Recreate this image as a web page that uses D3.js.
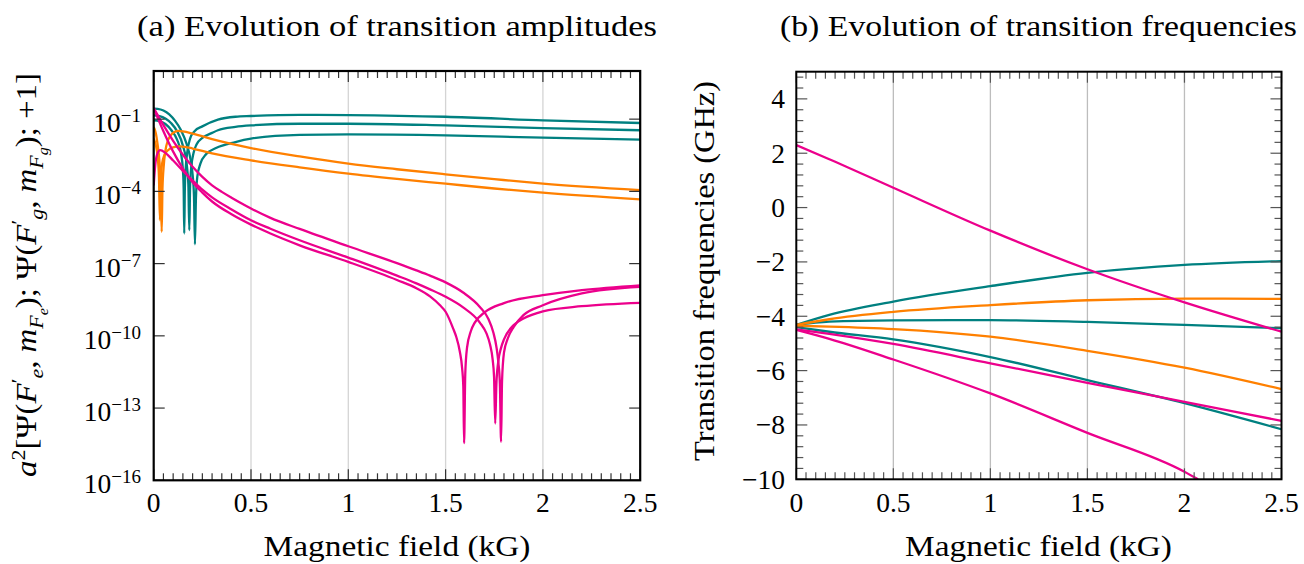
<!DOCTYPE html>
<html><head><meta charset="utf-8">
<script src="https://cdn.jsdelivr.net/npm/d3@7"></script>
<style>body{margin:0;background:#fff}svg{display:block}text{font-family:"Liberation Serif","Times New Roman",serif;fill:#000}</style>
</head><body>
<script>
// ---------- data ----------
const fieldTicks = [0, 0.5, 1, 1.5, 2, 2.5];
const fieldTickLabels = ["0", "0.5", "1", "1.5", "2", "2.5"];
const ampTickExps = [-1, -4, -7, -10, -13, -16];
const freqTicks = [4, 2, 0, -2, -4, -6, -8, -10];
const freqTickLabels = ["4", "2", "0", "\u22122", "\u22124", "\u22126", "\u22128", "\u221210"];

// panel (a): [field kG, log10 of a^2]
const tealA = [[0,-1.05],[0.03,-1.08],[0.06,-1.2],[0.09,-1.45],[0.12,-1.85],[0.14,-2.4],[0.15,-3.1],[0.154,-3.9],[0.157,-5.75],[0.16,-3.9],[0.164,-3.1],[0.172,-2.4],[0.187,-1.81],[0.21,-1.5],[0.25,-1.3],[0.33,-1.02],[0.42,-0.9],[0.5,-0.87],[0.75,-0.82],[1.0,-0.83],[1.5,-0.9],[2.0,-1.05],[2.5,-1.16]];
const tealB = [[0,-0.84],[0.03,-0.87],[0.06,-0.97],[0.09,-1.17],[0.12,-1.5],[0.15,-2.1],[0.17,-2.9],[0.178,-3.7],[0.183,-5.61],[0.187,-3.8],[0.193,-3.0],[0.205,-2.4],[0.22,-2.05],[0.25,-1.78],[0.3,-1.57],[0.33,-1.46],[0.42,-1.32],[0.5,-1.26],[0.75,-1.19],[1.0,-1.19],[1.5,-1.26],[2.0,-1.37],[2.5,-1.46]];
const tealC = [[0,-0.56],[0.02,-0.57],[0.05,-0.64],[0.08,-0.8],[0.11,-1.07],[0.14,-1.45],[0.17,-2.05],[0.19,-2.7],[0.2,-3.3],[0.207,-4.2],[0.212,-6.2],[0.217,-4.3],[0.224,-3.4],[0.24,-2.85],[0.27,-2.45],[0.32,-2.2],[0.42,-1.95],[0.5,-1.81],[0.75,-1.65],[1.0,-1.63],[1.5,-1.67],[2.0,-1.77],[2.5,-1.85]];
const orangeA = [[0,-1.33],[0.01,-1.55],[0.02,-2.05],[0.03,-2.8],[0.036,-3.7],[0.041,-5.68],[0.045,-3.9],[0.052,-2.9],[0.065,-2.1],[0.085,-1.7],[0.105,-1.54],[0.127,-1.49],[0.15,-1.51],[0.2,-1.6],[0.3,-1.83],[0.5,-2.2],[0.75,-2.55],[1.0,-2.85],[1.25,-3.08],[1.5,-3.29],[1.75,-3.49],[2.0,-3.68],[2.5,-3.95]];
const orangeB = [[0,-1.81],[0.01,-2.05],[0.02,-2.55],[0.027,-3.4],[0.032,-5.2],[0.036,-3.6],[0.043,-2.85],[0.055,-2.5],[0.075,-2.28],[0.1,-2.17],[0.13,-2.13],[0.16,-2.15],[0.2,-2.22],[0.3,-2.42],[0.5,-2.71],[0.75,-3.0],[1.0,-3.26],[1.25,-3.48],[1.5,-3.68],[1.75,-3.88],[2.0,-4.05],[2.5,-4.33]];
const magentaUpper = [[0,-0.54],[0.05,-1.25],[0.1,-1.9],[0.15,-2.48],[0.2,-2.98],[0.25,-3.4],[0.3,-3.75],[0.35,-4.02],[0.4,-4.26],[0.45,-4.49],[0.5,-4.71],[0.6,-5.1],[0.75,-5.56],[1.0,-6.28],[1.25,-6.98],[1.35,-7.28],[1.42,-7.5],[1.5,-7.78],[1.59,-8.2],[1.676,-8.8],[1.72,-9.3],[1.745,-9.85],[1.762,-10.5],[1.771,-11.1],[1.779,-12.0],[1.785,-14.4],[1.79,-11.9],[1.8,-10.7],[1.82,-10.1],[1.85,-9.63],[1.9,-9.14],[2.0,-8.73],[2.2,-8.24],[2.5,-7.97]];
const magentaMid = [[0,-3.75],[0.008,-2.9],[0.018,-2.45],[0.033,-2.29],[0.06,-2.4],[0.1,-2.72],[0.15,-3.15],[0.2,-3.55],[0.25,-3.93],[0.3,-4.25],[0.4,-4.75],[0.5,-5.2],[0.6,-5.55],[0.75,-6.03],[1.0,-6.75],[1.25,-7.5],[1.35,-7.82],[1.42,-8.07],[1.5,-8.38],[1.59,-8.82],[1.676,-9.45],[1.71,-9.9],[1.728,-10.35],[1.742,-11.0],[1.749,-11.7],[1.755,-13.64],[1.761,-12.0],[1.77,-11.1],[1.785,-10.5],[1.8,-10.15],[1.85,-9.55],[1.9,-9.28],[2.0,-8.98],[2.2,-8.77],[2.5,-8.63]];
const magentaLower = [[0,-0.54],[0.05,-1.5],[0.1,-2.35],[0.15,-3.05],[0.2,-3.62],[0.25,-4.05],[0.3,-4.42],[0.4,-4.95],[0.5,-5.38],[0.6,-5.75],[0.75,-6.24],[1.0,-6.93],[1.25,-7.68],[1.35,-8.02],[1.42,-8.36],[1.47,-8.72],[1.5,-9.0],[1.539,-9.7],[1.555,-10.05],[1.573,-10.65],[1.585,-11.35],[1.591,-12.1],[1.595,-14.46],[1.601,-11.6],[1.61,-10.5],[1.63,-9.8],[1.65,-9.45],[1.7,-9.03],[1.8,-8.64],[2.0,-8.31],[2.2,-8.1],[2.5,-7.9]];

// panel (b): frequencies (GHz)
const freqField = [0, 0.17, 0.5, 1.0, 1.5, 2.0, 2.5];
const pink1 = [2.30, 1.78, 0.73, -0.85, -2.27, -3.49, -4.57];
const teal1 = [-4.32, -3.95, -3.46, -2.89, -2.40, -2.11, -1.97];
const orange1 = [-4.32, -4.11, -3.84, -3.59, -3.41, -3.35, -3.36];
const teal2 = [-4.32, -4.20, -4.15, -4.14, -4.21, -4.32, -4.44];
const orange2 = [-4.35, -4.38, -4.47, -4.75, -5.27, -5.89, -6.68];
const teal3 = [-4.40, -4.57, -4.85, -5.50, -6.35, -7.20, -8.16];
const pink2 = [-4.48, -4.65, -5.02, -5.73, -6.45, -7.15, -7.85];
const pink3Field = [0, 0.17, 0.5, 1.0, 1.5, 2.0, 2.07];
const pink3 = [-4.50, -4.83, -5.59, -6.84, -8.29, -9.72, -10.0];

const TEAL = "#008080", ORANGE = "#ff8000", MAGENTA = "#ec008c";

// ---------- drawing ----------
const svg = d3.select("body").append("svg").attr("width", 1304).attr("height", 564);

const xL = d3.scaleLinear().domain([0, 2.5]).range([153.7, 640.2]);
const yL = d3.scaleLog().domain([1e-16, 1e1]).range([480.3, 71]);
const xR = d3.scaleLinear().domain([0, 2.5]).range([796.3, 1281.5]);
const yR = d3.scaleLinear().domain([-10, 5]).range([479.3, 71.7]);

function clip(id, x, y) {
  svg.append("clipPath").attr("id", id).append("rect")
    .attr("x", x.range()[0]).attr("y", y.range()[1])
    .attr("width", x.range()[1] - x.range()[0]).attr("height", y.range()[0] - y.range()[1]);
}
clip("cL", xL, yL); clip("cR", xR, yR);

function grid(x, y, color) {
  svg.append("g").selectAll("line").data(fieldTicks.slice(1, -1)).join("line")
    .attr("x1", d => x(d)).attr("x2", d => x(d))
    .attr("y1", y.range()[1]).attr("y2", y.range()[0])
    .attr("stroke", color).attr("stroke-width", 1.3);
}
grid(xL, yL, "#d4d4d4");
grid(xR, yR, "#bdbdbd");

const lineL = d3.line().x(d => xL(d[0])).y(d => yL(Math.pow(10, d[1]))).curve(d3.curveMonotoneX);
const gL = svg.append("g").attr("clip-path", "url(#cL)");
[[tealA, TEAL], [tealB, TEAL], [tealC, TEAL], [orangeA, ORANGE], [orangeB, ORANGE],
 [magentaUpper, MAGENTA], [magentaMid, MAGENTA], [magentaLower, MAGENTA]].forEach(([d, c]) => {
  gL.append("path").attr("d", lineL(d)).attr("fill", "none").attr("stroke", c).attr("stroke-width", 2.3);
});

const lineR = d3.line().x(d => xR(d[0])).y(d => yR(d[1])).curve(d3.curveMonotoneX);
const gR = svg.append("g").attr("clip-path", "url(#cR)");
const zipF = (f, v) => f.map((b, i) => [b, v[i]]);
[[teal1, TEAL], [teal2, TEAL], [teal3, TEAL], [orange1, ORANGE], [orange2, ORANGE],
 [pink1, MAGENTA], [pink2, MAGENTA]].forEach(([v, c]) => {
  gR.append("path").attr("d", lineR(zipF(freqField, v))).attr("fill", "none").attr("stroke", c).attr("stroke-width", 2.3);
});
gR.append("path").attr("d", lineR(zipF(pink3Field, pink3))).attr("fill", "none").attr("stroke", MAGENTA).attr("stroke-width", 2.3);

// ticks
function xTicks(x, y, color) {
  const minors = d3.range(0, 51).map(i => i * 0.05).filter(v => Math.abs(v / 0.5 - Math.round(v / 0.5)) > 1e-6);
  const g = svg.append("g").attr("stroke", color).attr("stroke-width", 1.2);
  const yb = y.range()[0], yt = y.range()[1];
  [[fieldTicks, 11], [minors, 7]].forEach(([arr, len]) => {
    g.selectAll(null).data(arr).join("line").attr("x1", d => x(d)).attr("x2", d => x(d)).attr("y1", yb).attr("y2", yb - len);
    g.selectAll(null).data(arr).join("line").attr("x1", d => x(d)).attr("x2", d => x(d)).attr("y1", yt).attr("y2", yt + len);
  });
}
function yTicks(x, vals, yf, len, color) {
  const g = svg.append("g").attr("stroke", color).attr("stroke-width", 1.2);
  const xl = x.range()[0], xr = x.range()[1];
  g.selectAll(null).data(vals).join("line").attr("x1", xl).attr("x2", xl + len).attr("y1", yf).attr("y2", yf);
  g.selectAll(null).data(vals).join("line").attr("x1", xr).attr("x2", xr - len).attr("y1", yf).attr("y2", yf);
}
xTicks(xL, yL, "#333");
xTicks(xR, yR, "#555");
yTicks(xL, ampTickExps, d => yL(Math.pow(10, d)), 11, "#333");
const freqMinors = d3.range(0, 38).map(i => -10 + i * 0.4).filter(v => Math.abs(v / 2 - Math.round(v / 2)) > 1e-6);
yTicks(xR, freqTicks, d => yR(d), 11, "#555");
yTicks(xR, freqMinors, d => yR(d), 7, "#555");

// frames
[[xL, yL, 2.2], [xR, yR, 2.0]].forEach(([x, y, w]) => {
  svg.append("rect").attr("x", x.range()[0]).attr("y", y.range()[1])
    .attr("width", x.range()[1] - x.range()[0]).attr("height", y.range()[0] - y.range()[1])
    .attr("fill", "none").attr("stroke", "#000").attr("stroke-width", w);
});

// tick labels
const FS = 27.5, LFS = 28.5;
[xL, xR].forEach(x => {
  svg.append("g").selectAll("text").data(fieldTicks).join("text")
    .attr("x", d => x(d)).attr("y", 512).attr("text-anchor", "middle").attr("font-size", FS)
    .text((d, i) => fieldTickLabels[i]);
});
const ampLab = svg.append("g").selectAll("text").data(ampTickExps).join("text")
  .attr("x", 141).attr("y", d => yL(Math.pow(10, d)) + 13).attr("text-anchor", "end").attr("font-size", FS);
ampLab.append("tspan").text("10");
ampLab.append("tspan").attr("dy", -10).attr("font-size", 19).text(d => "\u2212" + Math.abs(d));
svg.append("g").selectAll("text").data(freqTicks).join("text")
  .attr("x", 785).attr("y", d => yR(d) + 9.5).attr("text-anchor", "end").attr("font-size", FS)
  .text((d, i) => freqTickLabels[i]);

// labels, stretched to the reference text widths
function fitted(cx, cy, rot, target, build) {
  const g = svg.append("g");
  const t = g.append("text").attr("text-anchor", "middle").attr("font-size", LFS);
  build(t);
  const len = t.node().getComputedTextLength();
  const f = target / len;
  g.attr("transform", `translate(${cx},${cy}) rotate(${rot}) scale(${f},1)`);
  return g;
}
fitted(397, 36, 0, 520, t => t.text("(a) Evolution of transition amplitudes"));
fitted(1038.5, 36, 0, 517, t => t.text("(b) Evolution of transition frequencies"));
fitted(397, 556, 0, 267, t => t.text("Magnetic field (kG)"));
fitted(1038.5, 556, 0, 267, t => t.text("Magnetic field (kG)"));
fitted(714, 271, -90, 380, t => t.text("Transition frequencies (GHz)"));

const segs = [
  ["a", 1, 0], ["2", 0, -11], ["[\u03A8(", 0, 0], ["F", 1, 0], ["\u2032", 0, -11], ["e", 1, 7], [", ", 0, 0],
  ["m", 1, 0], ["F", 1, 7], ["e", 1, 12], ["); \u03A8(", 0, 0], ["F", 1, 0], ["\u2032", 0, -11], ["g", 1, 7],
  [", ", 0, 0], ["m", 1, 0], ["F", 1, 7], ["g", 1, 12], ["); +1]", 0, 0]
];
fitted(36, 275, -90, 404, t => {
  let prev = 0;
  segs.forEach(([s, it, sh]) => {
    const sp = t.append("tspan").text(s).attr("dy", sh - prev)
      .attr("font-size", sh === 0 ? LFS : (sh === 12 ? 14 : 19));
    if (it) sp.attr("font-style", "italic");
    prev = sh;
  });
});
</script>
</body></html>
